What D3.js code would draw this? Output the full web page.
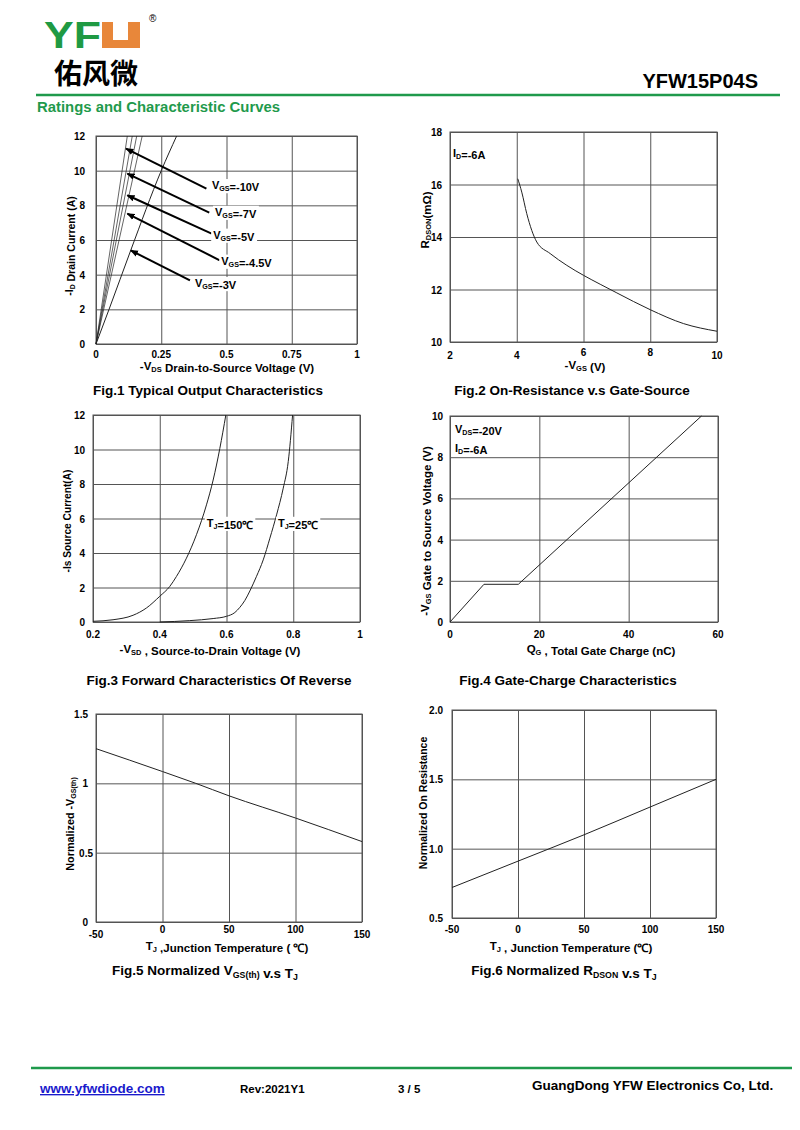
<!DOCTYPE html>
<html>
<head>
<meta charset="utf-8">
<script src="https://cdn.jsdelivr.net/npm/d3@7"></script>
<style>
  body { margin: 0; background: #fff; }
  svg { display: block; font-family: "Liberation Sans", Arial, sans-serif; font-weight: bold; }
</style>
</head>
<body>
<script>
// ---------- data ----------

// Fig.1 output characteristics (-VDS in V, -ID in A)
const fig1XTicks = [0, 0.25, 0.5, 0.75, 1];
const fig1XLabels = ["0", "0.25", "0.5", "0.75", "1"];
const fig1YTicks = [0, 2, 4, 6, 8, 10, 12];
const fig1Names = ["-10V", "-7V", "-5V", "-4.5V", "-3V"];
const fig1Vds = [
  [0, 0.12],
  [0, 0.139],
  [0, 0.156],
  [0, 0.177],
  [0, 0.05, 0.133, 0.25, 0.309]
];
const fig1Id = [
  [0, 12],
  [0, 12],
  [0, 12],
  [0, 12],
  [0, 2.0, 5.4, 10, 12]
];
// arrows: tail x, tail y, tip x, tip y (data units)
const fig1Arrows = [
  [0.423, 8.96, 0.115, 11.27],
  [0.434, 7.58, 0.12, 9.83],
  [0.443, 6.37, 0.12, 8.58],
  [0.474, 4.83, 0.12, 7.52],
  [0.36, 3.67, 0.133, 5.4]
];
const fig1LabelX = [0.444, 0.456, 0.449, 0.48, 0.379];
const fig1LabelY = [8.94, 7.4, 6.08, 4.58, 3.29];

// Fig.2 on-resistance vs gate-source voltage
const fig2XTicks = [2, 4, 6, 8, 10];
const fig2YTicks = [10, 12, 14, 16, 18];
const fig2Vgs = [4.03, 4.15, 4.3, 4.45, 4.6, 5.0, 5.5, 6.0, 6.5, 7.0, 8.0, 9.0, 10.0];
const fig2Rds = [16.22, 15.71, 14.89, 14.25, 13.81, 13.37, 12.92, 12.54, 12.2, 11.87, 11.23, 10.7, 10.41];

// Fig.3 body diode forward characteristics
const fig3XTicks = [0.2, 0.4, 0.6, 0.8, 1];
const fig3XLabels = ["0.2", "0.4", "0.6", "0.8", "1"];
const fig3YTicks = [0, 2, 4, 6, 8, 10, 12];
const fig3Vsd150 = [0.2, 0.26, 0.32, 0.36, 0.4, 0.43, 0.45, 0.48, 0.51, 0.54, 0.56, 0.58, 0.598];
const fig3Is150 = [0.04, 0.13, 0.39, 0.81, 1.49, 2.06, 2.64, 3.7, 5.06, 6.79, 8.23, 10.06, 12];
const fig3Vsd25 = [0.4, 0.49, 0.56, 0.6, 0.625, 0.64, 0.655, 0.67, 0.69, 0.71, 0.73, 0.75, 0.77, 0.785, 0.798];
const fig3Is25 = [0, 0.08, 0.2, 0.33, 0.55, 0.85, 1.25, 1.8, 2.65, 3.6, 4.86, 6.21, 7.76, 9.3, 12];

// Fig.4 gate charge
const fig4XTicks = [0, 20, 40, 60];
const fig4YTicks = [0, 2, 4, 6, 8, 10];
const fig4Qg = [0, 7.6, 15.3, 56.3];
const fig4Vgs = [0, 1.83, 1.83, 10];

// Fig.5 normalized threshold voltage vs temperature
const fig5XTicks = [-50, 0, 50, 100, 150];
const fig5YTicks = [0, 0.5, 1, 1.5];
const fig5YLabels = ["0", "0.5", "1", "1.5"];
const fig5Tj = [-50, 0, 25, 50, 100, 150];
const fig5Vth = [1.25, 1.085, 1.0, 0.91, 0.75, 0.58];

// Fig.6 normalized on-resistance vs temperature
const fig6XTicks = [-50, 0, 50, 100, 150];
const fig6YTicks = [0.5, 1.0, 1.5, 2.0];
const fig6YLabels = ["0.5", "1.0", "1.5", "2.0"];
const fig6Tj = [-50, 0, 50, 100, 150];
const fig6Rn = [0.72, 0.91, 1.1, 1.3, 1.5];

// ---------- page ----------
const green = "#1f9a4c";
const gridColor = "#555";

const svg = d3.select("body").append("svg")
    .attr("width", 800)
    .attr("height", 1130);

svg.append("defs").append("marker")
    .attr("id", "arrow")
    .attr("viewBox", "0 0 10 10")
    .attr("refX", 9).attr("refY", 5)
    .attr("markerWidth", 4).attr("markerHeight", 4)
    .attr("orient", "auto")
  .append("path")
    .attr("d", "M0,1 L10,5 L0,9 Z")
    .attr("fill", "#000");

// writes "-V_{DS} text" style strings with subscripts
function rich(sel, str, size) {
  const parts = str.split(/(_\{[^}]*\})/);
  parts.forEach(p => {
    if (!p) return;
    if (p.startsWith("_{")) {
      sel.append("tspan")
        .attr("font-size", size * 0.65)
        .attr("dy", size * 0.2)
        .text(p.slice(2, -1));
      sel.append("tspan").attr("dy", -size * 0.2).text("");
    } else {
      sel.append("tspan").text(p);
    }
  });
  return sel;
}

// label with white box behind it (hides grid lines as on the sheet)
function boxedLabel(x, y, str, size) {
  const g = svg.append("g");
  const t = g.append("text")
      .attr("x", x).attr("y", y)
      .attr("font-size", size)
      .attr("fill", "#000");
  rich(t, str, size);
  const b = t.node().getBBox();
  g.insert("rect", "text")
      .attr("x", b.x - 2).attr("y", b.y)
      .attr("width", b.width + 4).attr("height", b.height)
      .attr("fill", "#fff");
}

function panel(o) {
  const x = d3.scaleLinear().domain(o.xDomain).range([o.left, o.left + o.width]);
  const y = d3.scaleLinear().domain(o.yDomain).range([o.top + o.height, o.top]);

  // grid lines
  svg.append("g")
      .attr("transform", "translate(0," + (o.top + o.height) + ")")
      .call(d3.axisBottom(x).tickValues(o.xTicks).tickSize(-o.height).tickFormat(""))
      .call(g => g.select(".domain").remove())
      .selectAll("line").attr("stroke", gridColor);
  svg.append("g")
      .attr("transform", "translate(" + o.left + ",0)")
      .call(d3.axisLeft(y).tickValues(o.yTicks).tickSize(-o.width).tickFormat(""))
      .call(g => g.select(".domain").remove())
      .selectAll("line").attr("stroke", gridColor);

  svg.append("rect")
      .attr("x", o.left).attr("y", o.top)
      .attr("width", o.width).attr("height", o.height)
      .attr("fill", "none").attr("stroke", gridColor);

  // tick labels
  svg.append("g").selectAll("text")
    .data(o.xTicks)
    .join("text")
      .attr("x", d => x(d))
      .attr("y", (d, i) => o.top + o.height + (o.xDy ? o.xDy[i] : o.xPad))
      .attr("text-anchor", "middle")
      .attr("font-size", 10)
      .text((d, i) => o.xLabels ? o.xLabels[i] : d);
  svg.append("g").selectAll("text")
    .data(o.yTicks)
    .join("text")
      .attr("x", (d, i) => o.left - o.yPad + (o.yDx ? o.yDx[i] : 0))
      .attr("y", d => y(d) + 4)
      .attr("text-anchor", "end")
      .attr("font-size", 10)
      .text((d, i) => o.yLabels ? o.yLabels[i] : d);

  // axis titles
  rich(svg.append("text")
      .attr("x", o.xTitleX).attr("y", o.xTitleY)
      .attr("text-anchor", "middle")
      .attr("font-size", 11.5), o.xTitle, 11.5);
  const ys = o.yTitleSize || 11.5;
  rich(svg.append("text")
      .attr("transform", "translate(" + o.yTitleX + "," + o.yTitleY + ") rotate(-90)")
      .attr("text-anchor", "middle")
      .attr("font-size", ys), o.yTitle, ys);

  // caption
  rich(svg.append("text")
      .attr("x", o.capX).attr("y", o.capY)
      .attr("text-anchor", "middle")
      .attr("font-size", 13.5), o.caption, 13.5);

  return {x, y};
}

function curve(p, xs, ys, width) {
  const line = d3.line().x(d => p.x(d[0])).y(d => p.y(d[1])).curve(d3.curveMonotoneX);
  svg.append("path")
      .datum(xs.map((v, i) => [v, ys[i]]))
      .attr("d", line)
      .attr("fill", "none")
      .attr("stroke", "#222")
      .attr("stroke-width", width || 1);
}

// ---------- header ----------
svg.append("text")
    .attr("x", 44).attr("y", 48)
    .attr("font-size", 37)
    .attr("fill", "#1f9a43")
    .attr("textLength", 57).attr("lengthAdjust", "spacingAndGlyphs")
    .text("YF");
svg.append("rect").attr("x", 102).attr("y", 22).attr("width", 38).attr("height", 26).attr("fill", "#e8873a");
svg.append("rect").attr("x", 113).attr("y", 22).attr("width", 15).attr("height", 18).attr("fill", "#fff");
svg.append("text")
    .attr("x", 149).attr("y", 22)
    .attr("font-size", 10).attr("font-weight", "normal")
    .text("®");
svg.append("text")
    .attr("x", 54).attr("y", 84)
    .attr("font-family", "'Noto Sans CJK SC', sans-serif")
    .attr("font-weight", 700)
    .attr("font-size", 28)
    .text("佑风微");
svg.append("text")
    .attr("x", 758).attr("y", 88)
    .attr("text-anchor", "end")
    .attr("font-size", 20)
    .text("YFW15P04S");
svg.append("line")
    .attr("x1", 36).attr("x2", 780).attr("y1", 95).attr("y2", 95)
    .attr("stroke", green).attr("stroke-width", 2.5);
svg.append("text")
    .attr("x", 37).attr("y", 112)
    .attr("font-size", 14.5)
    .attr("fill", green)
    .attr("textLength", 243).attr("lengthAdjust", "spacingAndGlyphs")
    .text("Ratings and Characteristic Curves");

// ---------- Fig.1 ----------
const p1 = panel({
  left: 96, top: 136, width: 261, height: 208,
  xDomain: [0, 1], yDomain: [0, 12],
  xTicks: fig1XTicks, xLabels: fig1XLabels, yTicks: fig1YTicks,
  xPad: 14, yPad: 11,
  xTitle: "-V_{DS} Drain-to-Source Voltage (V)", xTitleX: 227, xTitleY: 370,
  yTitle: "-I_{D} Drain Current (A)", yTitleX: 73, yTitleY: 246, yTitleSize: 10.5,
  caption: "Fig.1 Typical Output Characteristics", capX: 208, capY: 395
});
fig1Vds.forEach((xs, i) => curve(p1, xs, fig1Id[i], i === 4 ? 1 : 0.7));
fig1Arrows.forEach(a => {
  svg.append("line")
      .attr("x1", p1.x(a[0])).attr("y1", p1.y(a[1]))
      .attr("x2", p1.x(a[2])).attr("y2", p1.y(a[3]))
      .attr("stroke", "#000").attr("stroke-width", 2)
      .attr("marker-end", "url(#arrow)");
});
fig1Names.forEach((n, i) => boxedLabel(p1.x(fig1LabelX[i]), p1.y(fig1LabelY[i]), "V_{GS}=" + n, 11));

// ---------- Fig.2 ----------
const p2 = panel({
  left: 450, top: 132, width: 267, height: 210,
  xDomain: [2, 10], yDomain: [10, 18],
  xTicks: fig2XTicks, yTicks: fig2YTicks,
  xDy: [17, 17, 14, 14, 17], yPad: 8,
  xTitle: "-V_{GS} (V)", xTitleX: 585, xTitleY: 369,
  yTitle: "R_{DSON}(mΩ)", yTitleX: 429, yTitleY: 220, yTitleSize: 11.5,
  caption: "Fig.2 On-Resistance v.s Gate-Source", capX: 572, capY: 395
});
curve(p2, fig2Vgs, fig2Rds);
rich(svg.append("text").attr("x", 453).attr("y", 157).attr("font-size", 11), "I_{D}=-6A", 11);

// ---------- Fig.3 ----------
const p3 = panel({
  left: 93, top: 415, width: 267, height: 207,
  xDomain: [0.2, 1], yDomain: [0, 12],
  xTicks: fig3XTicks, xLabels: fig3XLabels, yTicks: fig3YTicks,
  xPad: 16, yPad: 8,
  xTitle: "-V_{SD} , Source-to-Drain Voltage (V)", xTitleX: 210, xTitleY: 653,
  yTitle: "-Is Source Current(A)", yTitleX: 71, yTitleY: 521, yTitleSize: 10.2,
  caption: "Fig.3 Forward Characteristics Of Reverse", capX: 219, capY: 685
});
curve(p3, fig3Vsd150, fig3Is150);
curve(p3, fig3Vsd25, fig3Is25);
boxedLabel(p3.x(0.541), p3.y(5.52), "T_{J}=150℃", 11);
boxedLabel(p3.x(0.754), p3.y(5.52), "T_{J}=25℃", 11);

// ---------- Fig.4 ----------
const p4 = panel({
  left: 450, top: 416, width: 268, height: 206,
  xDomain: [0, 60], yDomain: [0, 10],
  xTicks: fig4XTicks, yTicks: fig4YTicks,
  xPad: 16, yPad: 7,
  xTitle: "Q_{G} , Total Gate Charge (nC)", xTitleX: 601, xTitleY: 653,
  yTitle: "-V_{GS}  Gate to Source Voltage (V)", yTitleX: 429, yTitleY: 531,
  caption: "Fig.4 Gate-Charge Characteristics", capX: 568, capY: 685
});
svg.append("path")
    .datum(fig4Qg.map((v, i) => [v, fig4Vgs[i]]))
    .attr("d", d3.line().x(d => p4.x(d[0])).y(d => p4.y(d[1])))
    .attr("fill", "none").attr("stroke", "#222");
rich(svg.append("text").attr("x", 455).attr("y", 433).attr("font-size", 11), "V_{DS}=-20V", 11);
rich(svg.append("text").attr("x", 455).attr("y", 452).attr("font-size", 11), "I_{D}=-6A", 11);

// ---------- Fig.5 ----------
const p5 = panel({
  left: 96, top: 714, width: 266, height: 208,
  xDomain: [-50, 150], yDomain: [0, 1.5],
  xTicks: fig5XTicks, yTicks: fig5YTicks, yLabels: fig5YLabels,
  xDy: [16, 11, 11, 11, 16], yPad: 8, yDx: [0, 5, 0, 0],
  xTitle: "T_{J} ,Junction Temperature ( ℃)", xTitleX: 227, xTitleY: 950,
  yTitle: "Normalized  -V_{GS(th)}", yTitleX: 74, yTitleY: 824, yTitleSize: 10.8,
  caption: "Fig.5 Normalized V_{GS(th)} v.s T_{J}", capX: 205, capY: 975
});
curve(p5, fig5Tj, fig5Vth);

// ---------- Fig.6 ----------
const p6 = panel({
  left: 452, top: 710, width: 264, height: 208,
  xDomain: [-50, 150], yDomain: [0.5, 2.0],
  xTicks: fig6XTicks, yTicks: fig6YTicks, yLabels: fig6YLabels,
  xPad: 15, yPad: 9,
  xTitle: "T_{J} , Junction Temperature (℃)", xTitleX: 571, xTitleY: 950,
  yTitle: "Normalized On Resistance", yTitleX: 427, yTitleY: 803, yTitleSize: 10.5,
  caption: "Fig.6 Normalized R_{DSON} v.s T_{J}", capX: 564, capY: 975
});
curve(p6, fig6Tj, fig6Rn);

// ---------- footer ----------
svg.append("line")
    .attr("x1", 31).attr("x2", 792).attr("y1", 1068).attr("y2", 1068)
    .attr("stroke", green).attr("stroke-width", 2.5);
svg.append("text")
    .attr("x", 40).attr("y", 1093)
    .attr("font-size", 13.5)
    .attr("fill", "#1a1acc")
    .attr("text-decoration", "underline")
    .text("www.yfwdiode.com");
svg.append("text").attr("x", 240).attr("y", 1093).attr("font-size", 11.5).text("Rev:2021Y1");
svg.append("text").attr("x", 398).attr("y", 1093).attr("font-size", 11.5).text("3 / 5");
svg.append("text").attr("x", 532).attr("y", 1090).attr("font-size", 13.5).text("GuangDong YFW Electronics Co, Ltd.");
</script>
</body>
</html>
